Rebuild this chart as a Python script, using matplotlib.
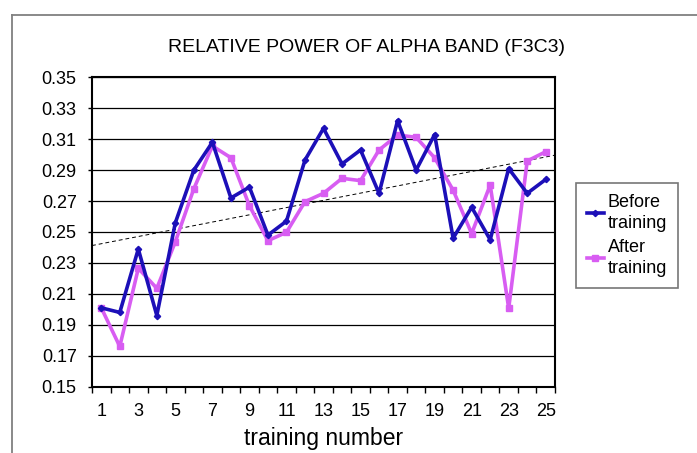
import numpy as np
import matplotlib
matplotlib.use("Agg")
import matplotlib.pyplot as plt
from matplotlib.lines import Line2D

plt.rcParams['font.family'] = ['Liberation Sans', 'DejaVu Sans']

# data
training = list(range(1, 26))
before = [0.201, 0.198, 0.239, 0.196, 0.256, 0.290, 0.308, 0.272, 0.279, 0.248,
          0.257, 0.2965, 0.317, 0.294, 0.303, 0.275, 0.322, 0.290, 0.313, 0.246,
          0.266, 0.245, 0.291, 0.275, 0.284]
after = [0.201, 0.176, 0.2265, 0.2136, 0.2437, 0.278, 0.3056, 0.298, 0.267, 0.2444,
         0.2498, 0.2696, 0.275, 0.2847, 0.2832, 0.303, 0.3127, 0.3112, 0.298, 0.277,
         0.249, 0.2804, 0.2007, 0.2959, 0.3019]
y_ticks = [0.15, 0.17, 0.19, 0.21, 0.23, 0.25, 0.27, 0.29, 0.31, 0.33, 0.35]
x_labels = [1, 3, 5, 7, 9, 11, 13, 15, 17, 19, 21, 23, 25]

fig = plt.figure(figsize=(6.97, 4.53), dpi=100)
ax = fig.add_axes([92/697, 1-386.7/453, (555-92)/697, (386.7-77.3)/453])

# horizontal grid
for v in y_ticks:
    ax.axhline(v, color='black', lw=0.9, zorder=1)

# linear trend of "before" series, stretched over the whole plot
k, b = np.polyfit(training, before, 1)
xt = np.array([0.5, 25.5])
ax.plot(xt, k*xt + b, color='black', lw=0.7, ls=(0, (4, 3)), zorder=2)

ax.plot(training, before, color='#1c0fb8', lw=2.6, marker='D', ms=3.2,
        label='Before\ntraining', zorder=4)
ax.plot(training, after, color='#d85df2', lw=2.6, marker='s', ms=3.8,
        label='After\ntraining', zorder=3)

ax.set_xlim(0.5, 25.5)
ax.set_ylim(0.15, 0.35)
ax.set_yticks(y_ticks)
ax.set_yticklabels([f"{v:.2f}" for v in y_ticks])
ax.set_xticks(x_labels)
ax.set_xticks(np.arange(0.5, 26, 1), minor=True)
ax.tick_params(axis='x', which='major', length=0, labelsize=13, pad=12)
ax.tick_params(axis='x', which='minor', length=4, width=1, direction='out')
ax.tick_params(axis='y', length=3, width=1, labelsize=13, pad=8)
for s in ax.spines.values():
    s.set_linewidth(1.5)
    s.set_color('black')

ax.set_xlabel('training number', fontsize=16.5, labelpad=5)
fig.text(366/697, 1-48/453, 'RELATIVE POWER OF ALPHA BAND (F3C3)',
         ha='center', va='center', fontsize=14)

leg = fig.legend(loc='upper left', bbox_to_anchor=(576/697, 1-183/453),
                 fontsize=13, frameon=True, fancybox=False, handlelength=0.95,
                 handletextpad=0.2, borderpad=0.6, labelspacing=0.35,
                 borderaxespad=0)
for t in leg.get_texts():
    t.set_linespacing(1.35)
leg.get_frame().set_edgecolor('#555555')
leg.get_frame().set_linewidth(1.2)

# outer chart frame (only left and top visible in the crop)
fig.add_artist(Line2D([12/697, 12/697], [0, 1-15/453], color='#808080', lw=1.3))
fig.add_artist(Line2D([12/697, 1], [1-15/453, 1-15/453], color='#808080', lw=1.3))

fig.savefig('out.png', dpi=100)
